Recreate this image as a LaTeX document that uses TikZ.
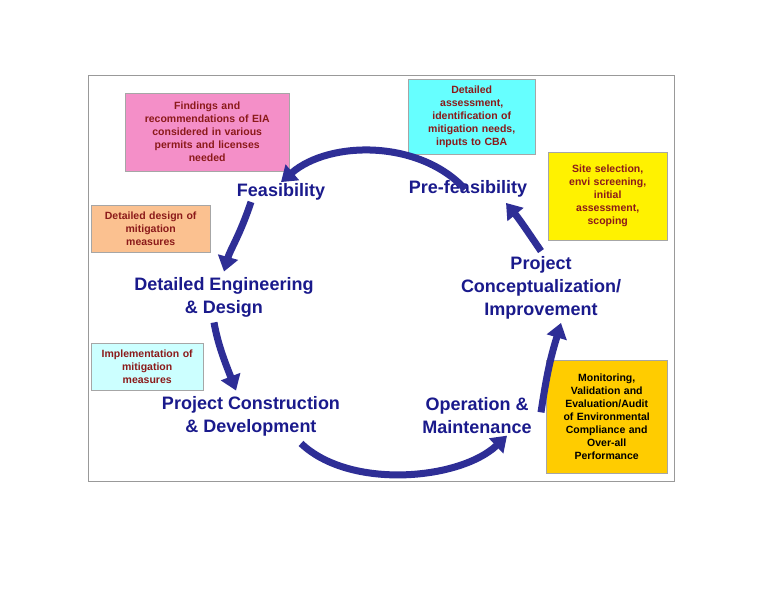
\documentclass[tikz,border=0pt]{standalone}
\usepackage{fontspec}
\setmainfont{Liberation Sans}
\usetikzlibrary{arrows.meta}
\definecolor{stageblue}{HTML}{1A1A8C}
\definecolor{boxtext}{HTML}{8B1A1A}
\definecolor{pinkf}{HTML}{F48FC8}
\definecolor{cyanf}{HTML}{66FFFF}
\definecolor{orangef}{HTML}{FBC190}
\definecolor{lcyanf}{HTML}{CCFFFF}
\definecolor{goldf}{HTML}{FFCC00}
\definecolor{arrowblue}{HTML}{2E2E96}
\tikzset{
  note/.style={draw=gray!70, rectangle, anchor=north west, inner sep=2pt, align=center, text=boxtext, font=\bfseries\fontsize{10.5}{13}\selectfont},
  stage/.style={align=center, text=stageblue, font=\bfseries\fontsize{18}{23}\selectfont},
  flow/.style={arrowblue, line width=7pt, -{Triangle[width=20pt,length=15pt]}}
}
\begin{document}
\begin{tikzpicture}[x=1pt,y=-1pt]
\useasboundingbox (0,0) rectangle (768,594);
\fill[white] (0,0) rectangle (768,594);
\draw[gray!80, line width=1pt] (88,75) rectangle (674,481);
\node[note, fill=pinkf, minimum width=164pt, minimum height=78pt, text width=158pt] (pk) at (125,93) {Findings and\\recommendations of EIA\\considered in various\\permits and licenses\\needed};
\node[note, fill=cyanf, minimum width=127pt, minimum height=75pt, text width=121pt] (cy) at (408,79) {Detailed\\assessment,\\identification of\\mitigation needs,\\inputs to CBA};
\node[note, fill=yellow, minimum width=119pt, minimum height=88pt, text width=113pt] (ye) at (548,152) {Site selection,\\envi screening,\\initial\\assessment,\\scoping};
\node[note, fill=orangef, minimum width=119pt, minimum height=47pt, text width=113pt] (or) at (91,205) {Detailed design of\\mitigation\\measures};
\node[note, fill=lcyanf, minimum width=112pt, minimum height=47pt, text width=106pt] (lc) at (91,343) {Implementation of\\mitigation\\measures};
\node[note, fill=goldf, minimum width=121pt, minimum height=113pt, text width=115pt, text=black] (gd) at (546,360) {Monitoring,\\Validation and\\Evaluation/Audit\\of Environmental\\Compliance and\\Over-all\\Performance};
\node[stage] (fe) at (281,192) {Feasibility};
\node[stage] (pf) at (468,189) {Pre-feasibility};
\node[stage] (de) at (224,297) {Detailed Engineering\\\& Design};
\node[stage] (pc) at (541,288) {Project\\Conceptualization/\\Improvement};
\node[stage] (cd) at (251,416) {Project Construction\\\& Development};
\node[stage] (om) at (477,416) {Operation \&\\Maintenance};
\draw[flow] ([xshift=-3pt,yshift=-12pt]pf.north) .. controls (420,140) and (330,140) .. ([xshift=0pt,yshift=-2pt]fe.north);
\draw[flow] ([xshift=-30pt,yshift=2pt]fe.south) .. controls (240,235) and (230,250) .. ([xshift=0pt,yshift=2pt]de.north);
\draw[flow] ([xshift=-10pt,yshift=-2pt]de.south) .. controls (218,345) and (225,362) .. ([xshift=-15pt,yshift=2pt]cd.north);
\draw[flow] ([xshift=50pt,yshift=-4pt]cd.south) .. controls (350,490) and (460,480) .. ([xshift=30pt,yshift=2pt]om.south);
\draw[flow] ([xshift=64pt,yshift=-18pt]om.north) .. controls (548,365) and (553,350) .. ([xshift=20pt,yshift=0pt]pc.south);
\draw[flow] ([xshift=0pt,yshift=2pt]pc.north) .. controls (530,235) and (520,220) .. ([xshift=38pt,yshift=-2pt]pf.south);
\end{tikzpicture}
\end{document}
